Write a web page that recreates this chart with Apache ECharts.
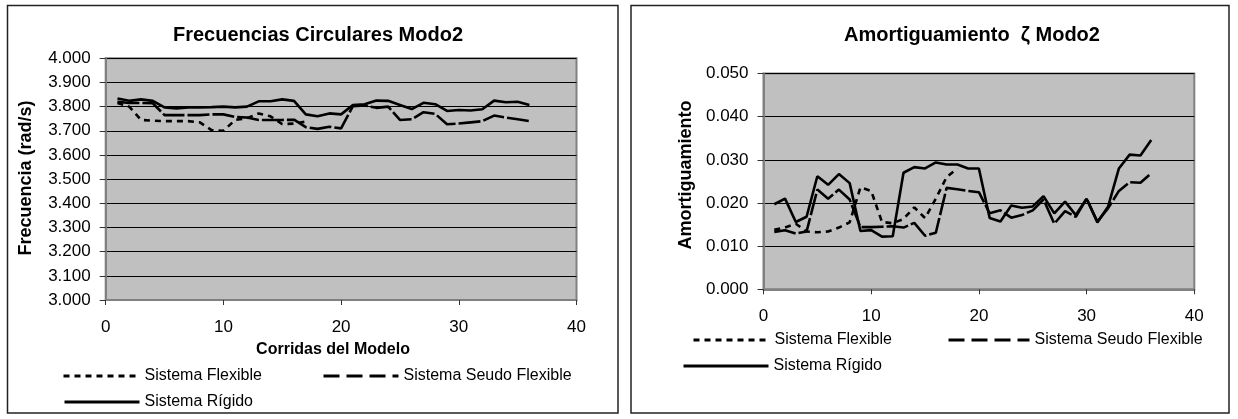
<!DOCTYPE html>
<html>
<head>
<meta charset="utf-8">
<script src="https://cdn.jsdelivr.net/npm/echarts@6/dist/echarts.min.js"></script>
<style>
  html, body { margin: 0; padding: 0; background: #fff; }
  #chart { width: 1238px; height: 419px; }
</style>
</head>
<body>
<div id="chart"></div>
<script>
// Run numbers (Corridas del Modelo)
const runs = [1,2,3,4,5,6,7,8,9,10,11,12,13,14,15,16,17,18,19,20,21,22,23,24,25,26,27,28,29,30,31,32,33,34,35,36];

// Mode 2 circular frequency (rad/s)
const freqFlexible = [3.815,3.800,3.745,3.742,3.740,3.740,3.740,3.735,3.703,3.700,3.745,3.752,3.772,3.760,3.728,3.730,3.738];
const freqSeudo = [3.820,3.815,3.815,3.814,3.765,3.765,3.765,3.765,3.768,3.768,3.757,3.755,3.745,3.745,3.745,3.746,3.715,3.708,3.717,3.710,3.802,3.805,3.795,3.800,3.745,3.748,3.777,3.770,3.727,3.730,3.735,3.740,3.763,3.755,3.748,3.740];
const freqRigido = [3.834,3.824,3.830,3.824,3.797,3.793,3.797,3.797,3.798,3.800,3.797,3.800,3.822,3.822,3.830,3.824,3.768,3.760,3.772,3.768,3.807,3.810,3.825,3.824,3.807,3.790,3.816,3.810,3.782,3.786,3.784,3.789,3.825,3.818,3.820,3.807];

// Mode 2 damping ratio
const dampFlexible = [0.0138,0.0143,0.0152,0.0134,0.0132,0.0134,0.0143,0.0155,0.0236,0.0228,0.0156,0.0153,0.0163,0.0190,0.0165,0.0210,0.0260,0.0280];
const dampSeudo = [0.0133,0.0137,0.0129,0.0134,0.0231,0.0210,0.0231,0.0208,0.0144,0.0144,0.0145,0.0146,0.0143,0.0154,0.0124,0.0131,0.0235,0.0232,0.0228,0.0225,0.0176,0.0183,0.0166,0.0172,0.0183,0.0208,0.0152,0.0181,0.0168,0.0210,0.0157,0.0188,0.0228,0.0248,0.0247,0.0269];
const dampRigido = [0.0197,0.0210,0.0156,0.0168,0.0262,0.0242,0.0267,0.0246,0.0135,0.0137,0.0122,0.0123,0.0270,0.0283,0.0280,0.0294,0.0289,0.0289,0.0280,0.0280,0.0165,0.0157,0.0194,0.0189,0.0192,0.0216,0.0176,0.0203,0.0172,0.0210,0.0155,0.0192,0.0280,0.0312,0.0310,0.0346];

const seriesNames = ['Sistema Flexible', 'Sistema Seudo Flexible', 'Sistema Rígido'];
const FONT = 'Liberation Sans, Arial, sans-serif';

const DOT = [6, 5];
const DASH = [22, 3];

function pairs(vals) {
  return vals.map((v, i) => [runs[i], v]);
}

function lineSeries(name, idx, vals, dash, z) {
  return {
    name: name,
    type: 'line',
    xAxisIndex: idx,
    yAxisIndex: idx,
    data: pairs(vals),
    symbol: 'none',
    z: z,
    itemStyle: { color: '#000' },
    lineStyle: { color: '#000', width: 2.6, type: dash || 'solid' },
    animation: false
  };
}

function xAxisCfg(idx) {
  return {
    gridIndex: idx, type: 'value', min: 0, max: 40, interval: 10,
    axisLine: { show: true, lineStyle: { color: '#808080', width: 2 } },
    axisTick: { show: true, length: 5, lineStyle: { color: '#333', width: 1 } },
    axisLabel: { color: '#000', fontSize: 17, fontFamily: FONT, margin: 19 },
    splitLine: { show: false }
  };
}

function yAxisCfg(idx, min, max, interval, digits) {
  return {
    gridIndex: idx, type: 'value', min: min, max: max, interval: interval,
    axisLine: { show: true, lineStyle: { color: '#808080', width: 2 } },
    axisTick: { show: true, length: 6, lineStyle: { color: '#333', width: 1 } },
    axisLabel: { color: '#000', fontSize: 17, fontFamily: FONT, margin: 15,
                 formatter: v => v.toFixed(digits) },
    splitLine: { show: true, lineStyle: { color: '#000', width: 1 } }
  };
}

function legendCfg(name, left, cy, width, dash, size) {
  return {
    data: [name], left: left, top: cy - 7, padding: 0,
    itemWidth: width, itemHeight: 14, selectedMode: false,
    textStyle: { color: '#000', fontSize: size, fontFamily: FONT },
    itemStyle: { opacity: 0 },
    lineStyle: { color: '#000', width: 3, type: dash || 'solid' }
  };
}

const chart = echarts.init(document.getElementById('chart'), null, { renderer: 'canvas' });

chart.setOption({
  backgroundColor: '#fff',
  animation: false,
  title: [
    { text: 'Frecuencias Circulares Modo2', left: 313, top: 20, textAlign: 'center',
      textStyle: { fontSize: 20, fontWeight: 'bold', color: '#000', fontFamily: FONT } },
    { text: 'Amortiguamiento  ζ Modo2', left: 967, top: 20, textAlign: 'center',
      textStyle: { fontSize: 20, fontWeight: 'bold', color: '#000', fontFamily: FONT } }
  ],
  grid: [
    { left: 105.7, right: 661.5, top: 58.3, bottom: 119, show: true,
      backgroundColor: '#c0c0c0', borderColor: '#808080', borderWidth: 2 },
    { left: 763.5, right: 43.7, top: 73.5, bottom: 129.7, show: true,
      backgroundColor: '#c0c0c0', borderColor: '#808080', borderWidth: 2 }
  ],
  xAxis: [xAxisCfg(0), xAxisCfg(1)],
  yAxis: [yAxisCfg(0, 3, 4, 0.1, 3), yAxisCfg(1, 0, 0.05, 0.01, 3)],
  legend: [
    legendCfg(seriesNames[0], 62, 375, 76, DOT, 16),
    legendCfg(seriesNames[1], 322, 375, 75, [16, 7], 16),
    legendCfg(seriesNames[2], 63, 401, 75, null, 16),
    legendCfg(seriesNames[0], 692, 339, 76, DOT, 16),
    legendCfg(seriesNames[1], 947, 339, 81, [16, 7], 16),
    legendCfg(seriesNames[2], 682, 365, 85, null, 16)
  ],
  graphic: [
    { type: 'rect', shape: { x: 7.5, y: 5.5, width: 610.5, height: 407.5 },
      style: { fill: 'none', stroke: '#222', lineWidth: 1.5 }, z: 100 },
    { type: 'rect', shape: { x: 631, y: 5.5, width: 598, height: 407.5 },
      style: { fill: 'none', stroke: '#222', lineWidth: 1.5 }, z: 100 },
    { type: 'text', x: 26, y: 178, rotation: Math.PI / 2,
      style: { text: 'Frecuencia (rad/s)', fontSize: 18, fontWeight: 'bold', fill: '#000',
               fontFamily: FONT, align: 'center', verticalAlign: 'middle' } },
    { type: 'text', x: 333, y: 350,
      style: { text: 'Corridas del Modelo', fontSize: 16, fontWeight: 'bold', fill: '#000',
               fontFamily: FONT, align: 'center', verticalAlign: 'middle' } },
    { type: 'text', x: 686, y: 175, rotation: Math.PI / 2,
      style: { text: 'Amortiguamiento', fontSize: 18, fontWeight: 'bold', fill: '#000',
               fontFamily: FONT, align: 'center', verticalAlign: 'middle' } }
  ],
  series: [
    lineSeries(seriesNames[0], 0, freqFlexible, DOT, 2),
    lineSeries(seriesNames[1], 0, freqSeudo, DASH, 3),
    lineSeries(seriesNames[2], 0, freqRigido, null, 4),
    lineSeries(seriesNames[0], 1, dampFlexible, DOT, 2),
    lineSeries(seriesNames[1], 1, dampSeudo, DASH, 3),
    lineSeries(seriesNames[2], 1, dampRigido, null, 4)
  ]
});
</script>
</body>
</html>
